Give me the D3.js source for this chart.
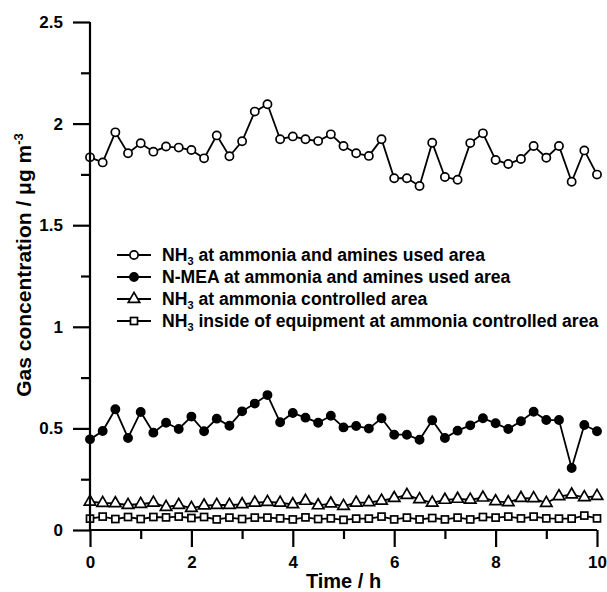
<!DOCTYPE html>
<html>
<head>
<meta charset="utf-8">
<script src="https://cdn.jsdelivr.net/npm/d3@7"></script>
<style>
  body { margin: 0; background: #fff; }
  text { font-family: "Liberation Sans", Arial, sans-serif; font-weight: bold; fill: #000; }
</style>
</head>
<body>
<div id="chart"></div>
<script>
// time axis: one reading every 15 minutes
var hours = d3.range(41).map(function (i) { return i * 0.25; });

var nh3_used = [1.834, 1.809, 1.957, 1.854, 1.903, 1.862, 1.887, 1.882, 1.870, 1.829,
    1.942, 1.839, 1.913, 2.059, 2.095, 1.923, 1.937, 1.923, 1.914, 1.947,
    1.890, 1.854, 1.841, 1.923, 1.731, 1.731, 1.693, 1.906, 1.737, 1.724,
    1.904, 1.952, 1.821, 1.801, 1.826, 1.890, 1.832, 1.890, 1.714, 1.868, 1.749];

var nmea_used = [0.446, 0.487, 0.594, 0.453, 0.581, 0.479, 0.528, 0.497, 0.558, 0.486,
    0.548, 0.513, 0.584, 0.622, 0.664, 0.530, 0.576, 0.553, 0.528, 0.562,
    0.505, 0.512, 0.499, 0.550, 0.469, 0.469, 0.444, 0.540, 0.453, 0.489,
    0.515, 0.550, 0.525, 0.497, 0.535, 0.582, 0.541, 0.541, 0.305, 0.517, 0.486];

var nh3_ctrl = [0.139, 0.133, 0.131, 0.123, 0.128, 0.134, 0.113, 0.123, 0.108, 0.120,
    0.123, 0.123, 0.126, 0.134, 0.138, 0.134, 0.126, 0.143, 0.121, 0.130,
    0.118, 0.134, 0.136, 0.144, 0.157, 0.172, 0.151, 0.134, 0.148, 0.153,
    0.149, 0.159, 0.141, 0.136, 0.157, 0.156, 0.133, 0.166, 0.174, 0.161, 0.167];

var nh3_equip = [0.056, 0.066, 0.054, 0.064, 0.054, 0.064, 0.062, 0.066, 0.059, 0.064,
    0.052, 0.061, 0.054, 0.061, 0.061, 0.057, 0.052, 0.062, 0.054, 0.057,
    0.050, 0.056, 0.056, 0.066, 0.052, 0.061, 0.052, 0.059, 0.052, 0.061,
    0.052, 0.064, 0.061, 0.066, 0.057, 0.066, 0.057, 0.056, 0.056, 0.071, 0.057];

var series = [
    {values: nh3_used,  marker: "circle",   fill: "#fff", label: ["NH", "3", " at ammonia and amines used area"]},
    {values: nmea_used, marker: "circle",   fill: "#000", label: ["N-MEA at ammonia and amines used area", "", ""]},
    {values: nh3_ctrl,  marker: "triangle", fill: "#fff", label: ["NH", "3", " at ammonia controlled area"]},
    {values: nh3_equip, marker: "square",   fill: "#fff", label: ["NH", "3", " inside of equipment at ammonia controlled area"]}
];

var xTicks = [0, 2, 4, 6, 8, 10];
var xMinor = [1, 3, 5, 7, 9];
var yTicks = [0, 0.5, 1, 1.5, 2, 2.5];
var yMinor = [0.25, 0.75, 1.25, 1.75, 2.25];

var margin = {top: 22, right: 10, bottom: 62, left: 90};
var width = 507, height = 508;

var svg = d3.select("#chart").append("svg")
    .attr("width", 607)
    .attr("height", 592);

var g = svg.append("g")
    .attr("transform", "translate(" + margin.left + "," + margin.top + ")");

var x = d3.scaleLinear().domain([0, 10]).range([0, width]);
var y = d3.scaleLinear().domain([0, 2.5]).range([height, 0]);

function drawMarker(sel, s, r) {
    if (s.marker === "circle") {
        sel.append("circle").attr("r", r);
    } else if (s.marker === "triangle") {
        sel.append("path").attr("d", d3.symbol(d3.symbolTriangle, r * r * 3.4)());
    } else {
        sel.append("rect").attr("x", -r).attr("y", -r).attr("width", 2 * r).attr("height", 2 * r);
    }
    sel.selectAll("circle, path, rect")
        .attr("fill", s.fill)
        .attr("stroke", "#000")
        .attr("stroke-width", 1.7);
}

var line = d3.line()
    .x(function (d, i) { return x(hours[i]); })
    .y(function (d) { return y(d); });

series.forEach(function (s) {
    var layer = g.append("g");
    layer.append("path")
        .datum(s.values)
        .attr("fill", "none")
        .attr("stroke", "#000")
        .attr("stroke-width", 1.8)
        .attr("d", line);

    layer.selectAll("g")
        .data(s.values)
        .join("g")
        .attr("transform", function (d, i) { return "translate(" + x(hours[i]) + "," + y(d) + ")"; })
        .each(function () { drawMarker(d3.select(this), s, s.marker === "square" ? 3.5 : 4.1); });
});

// axes drawn after the data so nothing covers the ticks
var xAxis = g.append("g")
    .attr("transform", "translate(0," + height + ")")
    .call(d3.axisBottom(x).tickValues(xTicks).tickSize(17).tickPadding(9).tickFormat(d3.format("d")));
g.append("g")
    .attr("transform", "translate(0," + height + ")")
    .call(d3.axisBottom(x).tickValues(xMinor).tickSize(9).tickFormat(""))
    .select(".domain").remove();

var yAxis = g.append("g")
    .call(d3.axisLeft(y).tickValues(yTicks).tickSize(17).tickPadding(10).tickFormat(d3.format("")));
g.append("g")
    .call(d3.axisLeft(y).tickValues(yMinor).tickSize(9).tickFormat(""))
    .select(".domain").remove();

xAxis.select(".domain").attr("d", "M0,0H" + width);
yAxis.select(".domain").attr("d", "M0,0V" + height);
g.selectAll(".domain, .tick line").attr("stroke", "#000").attr("stroke-width", 2.2);
g.selectAll(".tick text").style("font-size", "17px");

// axis titles
g.append("text")
    .attr("x", width / 2)
    .attr("y", height + 58)
    .attr("text-anchor", "middle")
    .style("font-size", "20px")
    .text("Time / h");

var yt = g.append("text")
    .attr("transform", "translate(-59," + (height / 2 - 11) + ") rotate(-90)")
    .attr("text-anchor", "middle")
    .style("font-size", "21px");
yt.append("tspan").text("Gas concentration / \u03bcg m");
yt.append("tspan").attr("dy", -8).style("font-size", "13px").text("-3");

// legend
var legend = g.append("g").attr("transform", "translate(27,233)");
series.forEach(function (s, i) {
    var row = legend.append("g").attr("transform", "translate(0," + (i * 22) + ")");
    row.append("line")
        .attr("x1", 0).attr("x2", 34)
        .attr("stroke", "#000").attr("stroke-width", 1.8);
    var m = row.append("g").attr("transform", "translate(17,0)");
    drawMarker(m, s, s.marker === "square" ? 3.5 : 4.1);
    var t = row.append("text")
        .attr("x", 45)
        .attr("y", 6)
        .style("font-size", "17.6px");
    t.append("tspan").text(s.label[0]);
    if (s.label[1]) {
        t.append("tspan").attr("dy", 4).style("font-size", "11px").text(s.label[1]);
        t.append("tspan").attr("dy", -4).text(s.label[2]);
    }
});
</script>
</body>
</html>
